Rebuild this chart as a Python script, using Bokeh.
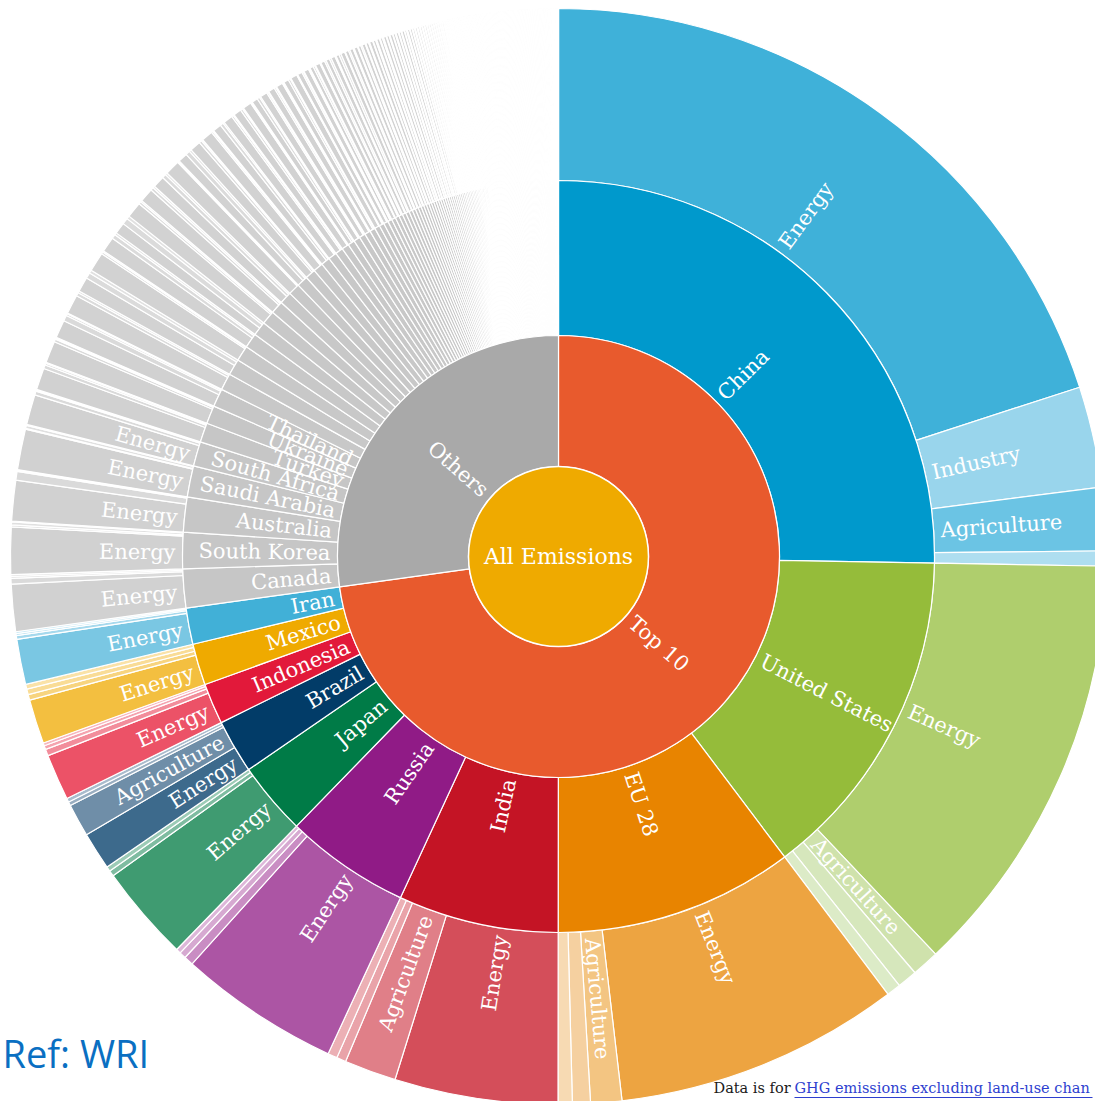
import math
from bokeh.plotting import figure
from bokeh.models import Range1d, ColumnDataSource
from bokeh.embed import file_html
from bokeh.resources import INLINE
from bokeh.core.properties import value

# ---------------- data: GHG emissions excl. land-use change (MtCO2e, approx.) ----------------
root_label = "All Emissions"
group_labels = ["Top 10", "Others"]

top10_countries = ["China", "United States", "EU 28", "India", "Russia",
                   "Japan", "Brazil", "Indonesia", "Mexico", "Iran"]
top10_sectors = [
    ["Energy", "Industry", "Agriculture", "Waste"],
    ["Energy", "Agriculture", "Industry", "Waste"],
    ["Energy", "Agriculture", "Industry", "Waste"],
    ["Energy", "Agriculture", "Industry", "Waste"],
    ["Energy", "Agriculture", "Industry", "Waste"],
    ["Energy", "Industry", "Agriculture"],
    ["Energy", "Agriculture", "Industry", "Waste"],
    ["Energy", "Agriculture", "Waste", "Industry"],
    ["Energy", "Agriculture", "Waste", "Industry"],
    ["Energy", "Agriculture", "Industry", "Waste"],
]
top10_values = [
    [9000, 1338, 838, 200],
    [5688, 363, 263, 188],
    [3788, 413, 238, 188],
    [2163, 688, 125, 125],
    [2138, 125, 88, 63],
    [1275, 75, 63],
    [500, 438, 50, 50],
    [613, 88, 50, 38],
    [588, 75, 75, 63],
    [600, 50, 25, 25],
]

other_countries = ["Canada", "South Korea", "Australia", "Saudi Arabia",
                   "South Africa", "Turkey", "Ukraine", "Thailand"]
other_sectors = [["Energy", "Agriculture", "Industry", "Waste"]] * 8
other_values = [
    [625, 75, 25, 25],
    [625, 25, 38, 13],
    [538, 113, 13, 13],
    [538, 13, 38, 13],
    [400, 50, 13, 13],
    [288, 50, 25, 13],
    [288, 38, 13, 13],
    [238, 75, 25, 13],
]

# remaining (unlabelled) countries, largest first
tail_values = [
    325, 313, 300, 288, 275, 263, 250, 238, 225, 213, 200, 188, 175,
    163, 150, 138, 131, 125, 119, 113, 106, 100, 94, 88, 81,
    78, 75, 73, 70, 68, 65, 63, 60, 58, 55, 53, 51, 50, 49, 48, 46, 45, 44, 43, 41, 40, 39, 38, 38, 36, 35,
    34, 34, 33, 33, 31, 31, 30, 30, 29, 29, 28, 28, 26, 26, 25, 25, 25, 24, 24, 24,
    23, 23, 23, 21, 21, 21, 20, 20, 20, 19, 19, 19, 19, 18, 18, 18, 18, 16, 16, 16,
    15, 15, 15, 15, 15, 15, 15, 15, 14, 14, 14, 14, 14, 14, 14, 14,
    12, 12, 12, 12, 12, 12, 12, 12, 12, 12, 11, 11, 11, 11, 11, 11, 11, 11, 11, 11,
    10, 10, 10, 10, 10, 10, 10, 10, 10, 10, 9, 9, 9, 9, 9, 9, 9, 9, 9, 9,
    8, 8, 8, 8, 8, 8, 8, 8, 8, 8, 6, 6, 6, 6, 6, 6, 6, 6, 6, 6,
    5, 5, 5, 5, 5, 5, 5, 5, 5, 5, 5, 5, 4, 4, 4, 4, 4, 4, 4, 4, 4, 4, 4, 4, 4, 4,
    3, 3, 3, 3, 3, 3, 3, 3, 3, 3, 3, 3, 3, 3, 3, 3, 1, 1, 1, 1, 1, 1, 1, 1, 1, 1, 1, 1, 1, 1, 1, 1,
]
# sector split of the larger unlabelled countries (energy / agriculture share)
tail_energy_share = [
    0.78, 0.62, 0.85, 0.70, 0.55, 0.80, 0.74, 0.66, 0.88, 0.58, 0.72, 0.81, 0.64,
    0.76, 0.69, 0.83, 0.60, 0.75, 0.71, 0.79, 0.63, 0.86, 0.67, 0.74, 0.57,
    0.82, 0.70, 0.65, 0.77, 0.61, 0.84, 0.68, 0.74, 0.81, 0.66, 0.79, 0.72, 0.85,
    0.69, 0.77, 0.63, 0.80, 0.71, 0.83, 0.67, 0.76, 0.70, 0.82, 0.64, 0.78, 0.73,
]
tail_agri_share = [
    0.14, 0.25, 0.09, 0.20, 0.30, 0.12, 0.16, 0.22, 0.07, 0.28, 0.18, 0.11, 0.24,
    0.15, 0.20, 0.10, 0.27, 0.17, 0.19, 0.13, 0.26, 0.08, 0.21, 0.17, 0.31,
]
small_country_mix = [0.65, 0.20, 0.15]   # energy / agriculture / other for the smallest

# ---------------- styling ----------------
root_color = "#EFAA00"
group_colors = ["#E85A2D", "#A9A9A9"]
top10_colors = ["#0099CC", "#95BC3A", "#E88400", "#C41425", "#901B86",
                "#007B47", "#023C68", "#E2193A", "#EFAA00", "#41B0D7"]
top10_sector_colors = [
    ["#3FB1D9", "#99D5EC", "#6BC4E4", "#AEDEF0"],
    ["#AFCE6D", "#CFE2AC", "#D6E7BC", "#DCEBC7"],
    ["#EDA441", "#F3C582", "#F5D0A0", "#F7DAB3"],
    ["#D44E5A", "#E07F88", "#E9A3A9", "#ECB0B5"],
    ["#AC55A4", "#C98DC3", "#D6A9D1", "#DDB7D9"],
    ["#3F9B71", "#7FBCA1", "#9CCBB6"],
    ["#3D6A8C", "#6F8EA8", "#9AAFC2", "#A9BCCD"],
    ["#EC5267", "#F28D9B", "#F5A3AF", "#F7B6BF"],
    ["#F3BF40", "#F7D47F", "#F9DC96", "#FAE2A8"],
    ["#7AC7E3", "#A6D9ED", "#B5E0F0", "#BFE4F2"],
]
other_color = "#C6C6C6"
other_sector_colors = ["#D1D1D1", "#DADADA", "#E0E0E0", "#E3E3E3"]
tail_color = "#C8C8C8"
tail_sector_colors = ["#D2D2D2", "#DBDBDB", "#E1E1E1"]

R = [0, 90, 221, 376, 548]
PAD = 7
MIN_SECTOR_LABEL_DEG = 2.8
FONT = "DejaVu Serif"

total = (sum(sum(v) for v in top10_values) + sum(sum(v) for v in other_values)
         + sum(tail_values))
k = 360.0 / total

wed = dict(ri=[], ro=[], sa=[], ea=[], color=[])
lab_r = dict(x=[], y=[], text=[], angle=[])   # right half: text starts at anchor
lab_l = dict(x=[], y=[], text=[], angle=[])   # left half: text ends at anchor


def add(level, t0, t1, color, label=None):
    ri, ro = R[level], R[level + 1]
    wed["ri"].append(ri)
    wed["ro"].append(ro)
    wed["sa"].append(math.radians(90 - t1))
    wed["ea"].append(math.radians(90 - t0))
    wed["color"].append(color)
    if label:
        tm = (t0 + t1) / 2.0
        r = ri + PAD
        x = r * math.sin(math.radians(tm))
        y = r * math.cos(math.radians(tm))
        if tm <= 180:
            d = lab_r
            ang = math.radians(90 - tm)
        else:
            d = lab_l
            ang = math.radians(270 - tm)
        d["x"].append(x)
        d["y"].append(y)
        d["text"].append(label)
        d["angle"].append(ang)


t = 0.0
g0 = t
for name, secs, vals, col, scol in zip(top10_countries, top10_sectors, top10_values,
                                       top10_colors, top10_sector_colors):
    c0 = t
    for s, v, sc in zip(secs, vals, scol):
        w = v * k
        add(3, t, t + w, sc, s if w >= MIN_SECTOR_LABEL_DEG else None)
        t += w
    add(2, c0, t, col, name)
add(1, g0, t, group_colors[0], group_labels[0])

g1 = t
for name, secs, vals in zip(other_countries, other_sectors, other_values):
    c0 = t
    for s, v, sc in zip(secs, vals, other_sector_colors):
        w = v * k
        add(3, t, t + w, sc, s if w >= MIN_SECTOR_LABEL_DEG else None)
        t += w
    add(2, c0, t, other_color, name)

for i, v in enumerate(tail_values):
    c0 = t
    w = v * k
    if i < len(tail_energy_share):
        e = tail_energy_share[i]
        a = tail_agri_share[i] if i < len(tail_agri_share) else 0.0
        if a > 0:
            parts, cols = [e, a, 1.0 - e - a], tail_sector_colors
        else:
            parts, cols = [e, 1.0 - e], [tail_sector_colors[0], tail_sector_colors[2]]
    else:
        parts, cols = small_country_mix, tail_sector_colors
    tt = t
    for f, cc in zip(parts, cols):
        add(3, tt, tt + w * f, cc)
        tt += w * f
    t += w
    add(2, c0, t, tail_color)
add(1, g1, t, group_colors[1], group_labels[1])

# ---------------- figure ----------------
W, H = 1095, 1101
CX, CY = 558, 556   # centre position in pixels (from top-left)
p = figure(width=W, height=H, output_backend="svg", toolbar_location=None,
           x_range=Range1d(-CX, W - CX), y_range=Range1d(CY - H, CY),
           x_axis_location=None, y_axis_location=None, min_border=0)
p.grid.visible = False
p.outline_line_color = None
p.background_fill_color = "white"
p.border_fill_color = "white"

p.annular_wedge(x=0, y=0, inner_radius="ri", outer_radius="ro",
                start_angle="sa", end_angle="ea", source=ColumnDataSource(wed),
                fill_color="color", line_color="white", line_width=1.2)
p.circle(x=[0], y=[0], radius=R[1], fill_color=root_color,
         line_color="white", line_width=1.5)

p.text(x="x", y="y", text="text", angle="angle", source=ColumnDataSource(lab_r),
       text_align="left", text_baseline="middle", text_color="white",
       text_font=value(FONT), text_font_size="21px")
p.text(x="x", y="y", text="text", angle="angle", source=ColumnDataSource(lab_l),
       text_align="right", text_baseline="middle", text_color="white",
       text_font=value(FONT), text_font_size="21px")
p.text(x=[0], y=[0], text=[root_label], text_align="center", text_baseline="middle",
       text_color="white", text_font=value(FONT), text_font_size="22px")

# annotations
p.text(x=[-556], y=[-496], text=["Ref: WRI"], text_align="left",
       text_baseline="middle", text_color="#0A6FC2",
       text_font=value("Open Sans"), text_font_size="38px")
p.text(x=[155], y=[-531], text=["Data is for "], text_align="left",
       text_baseline="middle", text_color="#1A1A1A",
       text_font=value(FONT), text_font_size="14.5px")
p.text(x=[236], y=[-531], text=["GHG emissions excluding land-use chan"],
       text_align="left", text_baseline="middle", text_color="#2E3FCF",
       text_font=value(FONT), text_font_size="14.5px")
p.segment(x0=[236], y0=[-541], x1=[534], y1=[-541], line_color="#2E3FCF", line_width=1)

open("out.html", "w").write(file_html(p, INLINE))
